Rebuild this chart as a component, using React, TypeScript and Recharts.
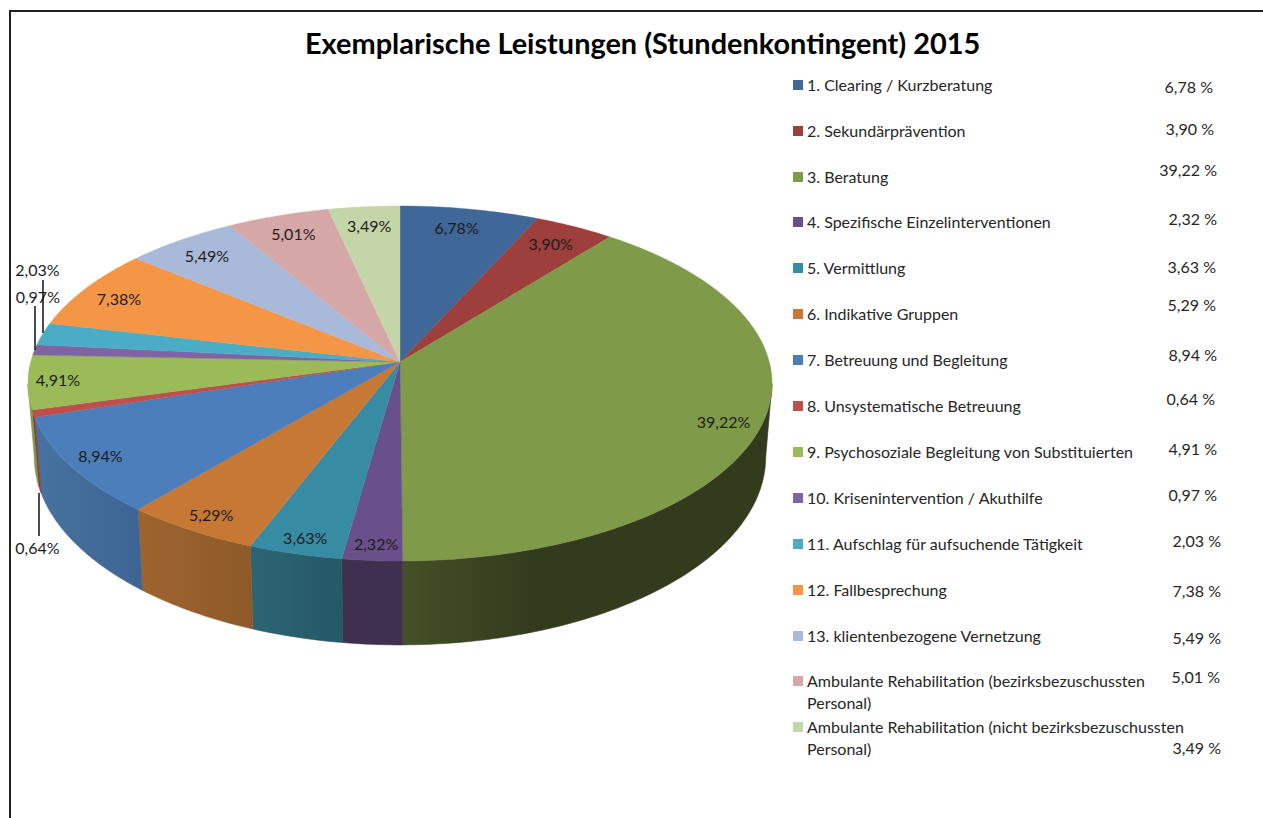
import { PieChart, Pie, Cell, Legend } from "recharts";

const CATEGORIES = [
  "1. Clearing / Kurzberatung",
  "2. Sekundärprävention",
  "3. Beratung",
  "4. Spezifische Einzelinterventionen",
  "5. Vermittlung",
  "6. Indikative Gruppen",
  "7. Betreuung und Begleitung",
  "8. Unsystematische Betreuung",
  "9. Psychosoziale Begleitung von Substituierten",
  "10. Krisenintervention / Akuthilfe",
  "11. Aufschlag für aufsuchende Tätigkeit",
  "12. Fallbesprechung",
  "13. klientenbezogene Vernetzung",
  "Ambulante Rehabilitation (bezirksbezuschussten Personal)",
  "Ambulante Rehabilitation (nicht bezirksbezuschussten Personal)",
];
const VALUES = [6.78, 3.9, 39.22, 2.32, 3.63, 5.29, 8.94, 0.64, 4.91, 0.97, 2.03, 7.38, 5.49, 5.01, 3.49];

const TOP_COLORS = ["#3F6797", "#9C3F3D", "#7F9A48", "#69508A", "#378BA3", "#C77835", "#4C7EBB", "#BE4F4C", "#9BBB59", "#8064A2", "#4BACC6", "#F49646", "#A8B9D9", "#D6A7A7", "#C4D5A8"];
const WALL_LEFT = ["#2F4D71", "#752F2E", "#445027", "#40304F", "#2C6575", "#9E642F", "#47729F", "#8E3B39", "#7D9847", "#60497A", "#37819A", "#B8702F", "#7E8BA3", "#A07D7D", "#93A07E"];
const WALL_RIGHT = ["#2F4D71", "#752F2E", "#333B1D", "#40304F", "#265865", "#8E5A2A", "#3E6494", "#8E3B39", "#7D9847", "#60497A", "#37819A", "#B8702F", "#7E8BA3", "#A07D7D", "#93A07E"];

// layout of the legend column
const LEGEND_Y = [85, 131, 177, 222, 268, 314, 360, 406, 452, 498, 544, 590, 636, 681, 727];
const VALUE_Y = [87, 129, 170, 219, 267, 305, 355, 399, 449, 495, 541, 591, 638, 677, 748];
const VALUE_RIGHT = [1213, 1214, 1217, 1217, 1216, 1216, 1217, 1215, 1217, 1217, 1221, 1221, 1221, 1220, 1221];
// hand placed data labels, as in the original sheet
const LABEL_NUDGE = [[-5, 0], [-3, 1], [9, 8], [0, 12], [-5, 11], [-9, 8], [-16, 4], [-45, 141], [-19, 0], [-44, -55], [-51, -68], [-6, 1], [0, 1], [1, 0], [1, 0]];
const LEADERS: Record<number, number[]> = { 7: [39, 493, 536], 9: [35, 306, 350], 10: [43, 280, 333] };
const WRAP = " Personal)";

const rows = CATEGORIES.map((name, i) => ({ name, value: VALUES[i] }));
const FONT = "Lato, sans-serif";

// perspective of the 3d pie: apex is not the centre of the rim ellipse
const CX = 400;
const CY = 362;
const RX = 369.3;
const RY = 174.9;
const K = 0.121;
const SILHOUETTE = 97;

const project = (theta: number, r = 1): [number, number] => {
  const t = (theta * Math.PI) / 180;
  const u = r * Math.sin(t);
  const v = -r * Math.cos(t);
  const d = 1 - K * v;
  return [CX + (RX * u) / d, CY + (RY * v) / d];
};
const lower = ([x, y]: [number, number]): [number, number] => [CX + (x - CX) * 0.983, CY + (y - CY) * 1.06 + 72];

const rim = (from: number, to: number) => {
  const pts: [number, number][] = [];
  const n = Math.max(2, Math.ceil(Math.abs(to - from)));
  for (let i = 0; i <= n; i++) pts.push(project(from + ((to - from) * i) / n));
  return pts;
};
const toPath = (pts: [number, number][]) =>
  pts.map((p, i) => `${i ? "L" : "M"}${p[0].toFixed(2)} ${p[1].toFixed(2)}`).join(" ") + " Z";

const TopShape = (props: any) => {
  const from = 90 - props.startAngle;
  const to = 90 - props.endAngle;
  const c = TOP_COLORS[props.index ?? 0];
  return <path d={toPath([[CX, CY], ...rim(from, to)])} fill={c} stroke={c} strokeWidth={0.4} />;
};

const WallShape = (props: any) => {
  const i = props.index ?? 0;
  const from = Math.max(90 - props.startAngle, SILHOUETTE);
  const to = Math.min(90 - props.endAngle, 360 - SILHOUETTE);
  if (to <= from) return null;
  const top = rim(from, to);
  const id = `wall${i}`;
  return (
    <g>
      <defs>
        <linearGradient id={id} x1="0" y1="0" x2="1" y2="0">
          <stop offset="0" stopColor={WALL_LEFT[i]} />
          <stop offset={i === 2 ? "0.35" : "1"} stopColor={WALL_RIGHT[i]} />
        </linearGradient>
      </defs>
      <path d={toPath([...top, ...top.map(lower).reverse()])} fill={`url(#${id})`} stroke={`url(#${id})`} strokeWidth={0.6} />
    </g>
  );
};

const pct = (v: number) => v.toFixed(2).replace(".", ",");

const SliceLabel = (props: any) => {
  const i = props.index ?? 0;
  const [x, y] = project(90 - props.midAngle, 0.87);
  const leader = LEADERS[i];
  return (
    <g>
      {leader && <line x1={leader[0]} x2={leader[0]} y1={leader[1]} y2={leader[2]} stroke="#000" strokeWidth={1.4} />}
      <text x={x + LABEL_NUDGE[i][0]} y={y + LABEL_NUDGE[i][1]} textAnchor="middle" dominantBaseline="central" fontFamily={FONT} fontSize={16} fill="#1c1c1c">
        {pct(VALUES[i])}%
      </text>
    </g>
  );
};

const legendText = { position: "absolute", left: 807, fontFamily: FONT, fontSize: 16, lineHeight: "22px", color: "#262626", whiteSpace: "nowrap" } as const;

const LegendColumn = () => (
  <div>
    {CATEGORIES.map((name, i) => {
      const wrapped = name.endsWith(WRAP);
      return (
        <div key={name}>
          <div style={{ position: "absolute", left: 793, top: LEGEND_Y[i] - 5, width: 10, height: 10, background: TOP_COLORS[i] }} />
          <div style={{ ...legendText, top: LEGEND_Y[i] - 11 }}>{wrapped ? name.slice(0, -WRAP.length) : name}</div>
          {wrapped && <div style={{ ...legendText, top: LEGEND_Y[i] + 11 }}>{WRAP.trim()}</div>}
          <div style={{ position: "absolute", left: VALUE_RIGHT[i] - 60, width: 60, textAlign: "right", top: VALUE_Y[i] - 11, fontFamily: FONT, fontSize: 16, lineHeight: "22px", color: "#262626", whiteSpace: "nowrap" }}>
            {pct(VALUES[i])} %
          </div>
        </div>
      );
    })}
  </div>
);

export default function App() {
  return (
    <div style={{ position: "absolute", left: 0, top: 0, width: 1263, height: 818, background: "#fff", overflow: "hidden" }}>
      <div style={{ position: "absolute", left: 9, top: 10, width: 1254, height: 2, background: "#222" }} />
      <div style={{ position: "absolute", left: 9, top: 10, width: 2, height: 808, background: "#222" }} />
      <div style={{ position: "absolute", left: 305, top: 24, fontFamily: FONT, fontWeight: 700, fontSize: 28.9, lineHeight: "38px", color: "#000", whiteSpace: "nowrap" }}>
        Exemplarische Leistungen (Stundenkontingent) 2015
      </div>
      <PieChart width={1263} height={818} margin={{ top: 0, right: 0, bottom: 0, left: 0 }}>
        <Pie data={rows} dataKey="value" nameKey="name" cx={CX} cy={CY} outerRadius={100} startAngle={90} endAngle={-270} shape={WallShape} isAnimationActive={false} legendType="none">
          {rows.map((r, i) => <Cell key={r.name} fill={WALL_LEFT[i]} />)}
        </Pie>
        <Pie data={rows} dataKey="value" nameKey="name" cx={CX} cy={CY} outerRadius={100} startAngle={90} endAngle={-270} shape={TopShape} label={SliceLabel} labelLine={false} isAnimationActive={false}>
          {rows.map((r, i) => <Cell key={r.name} fill={TOP_COLORS[i]} />)}
        </Pie>
        <Legend content={() => <LegendColumn />} wrapperStyle={{ position: "absolute", left: 0, top: 0, width: 1263, height: 818, pointerEvents: "none" }} />
      </PieChart>
    </div>
  );
}
